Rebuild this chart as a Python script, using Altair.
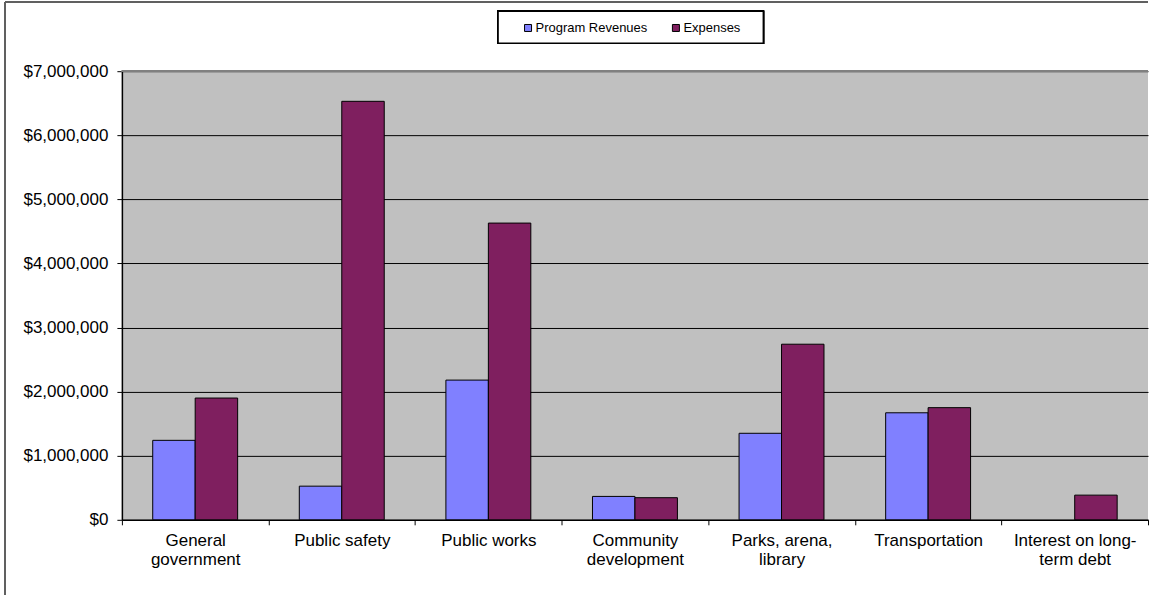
import altair as alt
import pandas as pd

# Program revenues vs. expenses by government function
categories = [
    "General government",
    "Public safety",
    "Public works",
    "Community development",
    "Parks, arena, library",
    "Transportation",
    "Interest on long-term debt",
]
revenues = [1240000, 525000, 2180000, 365000, 1350000, 1670000, 0]
expenses = [1900000, 6530000, 4630000, 345000, 2740000, 1750000, 385000]
series = ["Program Revenues", "Expenses"]
colors = ["#8080FF", "#7F1F5F"]
y_ticks = [0, 1000000, 2000000, 3000000, 4000000, 5000000, 6000000, 7000000]

# wrapped axis labels
label_lines = {
    "General government": ["General", "government"],
    "Community development": ["Community", "development"],
    "Parks, arena, library": ["Parks, arena,", "library"],
    "Interest on long-term debt": ["Interest on long-", "term debt"],
}

rows = []
for cat, rev, exp in zip(categories, revenues, expenses):
    rows.append({"category": cat, "series": series[0], "amount": rev})
    rows.append({"category": cat, "series": series[1], "amount": exp})
df = pd.DataFrame(rows)

label_expr = ""
for name, lines in label_lines.items():
    arr = "[" + ",".join("'" + l + "'" for l in lines) + "]"
    label_expr += f"datum.label == '{name}' ? {arr} : "
label_expr += "datum.label"

FONT = "Liberation Sans"
W, H = 1027, 449

bars = alt.Chart(df).transform_filter("datum.amount > 0").mark_bar(
    stroke="black", strokeWidth=1
).encode(
    x=alt.X(
        "category:N",
        sort=categories,
        scale=alt.Scale(domain=categories, paddingInner=0, paddingOuter=0),
        axis=alt.Axis(
            title=None,
            labelAngle=0,
            labelExpr=label_expr,
            labelFont=FONT,
            labelFontSize=17,
            labelColor="black",
            labelPadding=8,
            labelLineHeight=19,
            labelBaseline="top",
            tickBand="extent",
            tickSize=5,
            tickColor="black",
            domainColor="black",
            domainWidth=1.5,
            grid=False,
        ),
    ),
    xOffset=alt.XOffset(
        "series:N",
        sort=series,
        scale=alt.Scale(domain=series, paddingInner=0, paddingOuter=0.726),
    ),
    y=alt.Y(
        "amount:Q",
        scale=alt.Scale(domain=[0, 7000000], nice=False),
        axis=alt.Axis(
            title=None,
            values=y_ticks,
            format="$,.0f",
            labelFont=FONT,
            labelFontSize=17,
            labelColor="black",
            labelPadding=9,
            tickSize=5,
            tickColor="black",
            domainColor="black",
            domainWidth=1.5,
            grid=True,
            gridColor="black",
            gridWidth=1,
        ),
    ),
    color=alt.Color(
        "series:N",
        sort=series,
        scale=alt.Scale(domain=series, range=colors),
        legend=alt.Legend(
            title=None,
            orient="none",
            legendX=400,
            legendY=-50,
            direction="horizontal",
            symbolType="square",
            symbolSize=49,
            symbolStrokeColor="black",
            symbolStrokeWidth=1,
            labelFont=FONT,
            labelFontSize=13,
            labelColor="black",
            labelOffset=1,
            columnPadding=22,
            padding=0,
        ),
    ),
)

# legend frame
legend_box = alt.Chart(df).mark_rect(
    fill="white", stroke="black", strokeWidth=1.5
).encode(
    x=alt.value(376.5), x2=alt.value(642), y=alt.value(-60), y2=alt.value(-28)
)

# plot-area top edge
top_edge = alt.Chart(df).mark_rule(color="#808080", strokeWidth=1.5).encode(
    x=alt.value(0), x2=alt.value(W), y=alt.value(0)
)

# chart-area frame (left and top)
frame_left = alt.Chart(df).mark_rule(color="#606060", strokeWidth=1.5).encode(
    x=alt.value(-117), y=alt.value(-69), y2=alt.value(524)
)
frame_top = alt.Chart(df).mark_rule(color="#606060", strokeWidth=1.5).encode(
    x=alt.value(-117), x2=alt.value(W), y=alt.value(-69)
)

chart = (
    alt.layer(bars, legend_box, top_edge, frame_left, frame_top)
    .properties(
        width=W,
        height=H,
        padding={"left": 4, "top": 1, "right": 0, "bottom": 0},
        background="white",
    )
    .configure_view(fill="#C0C0C0", stroke=None)
    .configure_legend(strokeColor="transparent", fillColor="transparent")
)

chart.save("out.html", embed_options={"renderer": "svg", "actions": False})
